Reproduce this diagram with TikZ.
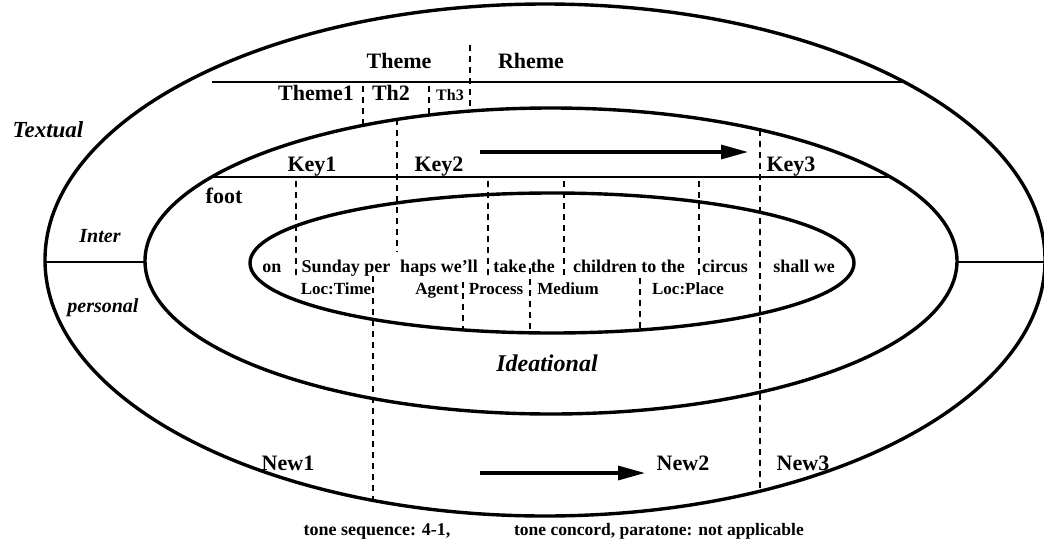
\documentclass[tikz,border=0pt]{standalone}
\usepackage{fontspec}
\setmainfont{Liberation Serif}
\usetikzlibrary{arrows.meta}
\begin{document}
\begin{tikzpicture}[x=1pt,y=-1pt,
  ring/.style={line width=3.4pt},
  rule/.style={line width=2.8pt},
  divider/.style={line width=2.3pt, dash pattern=on 6pt off 5pt},
  flow/.style={line width=3.2pt,-{Triangle[length=27pt,width=14pt]}},
  lab/.style={font=\fontsize{22}{24}\selectfont\bfseries, inner sep=0pt, anchor=base},
  small/.style={font=\fontsize{16}{18}\selectfont\bfseries, inner sep=0pt, anchor=base},
  word/.style={font=\fontsize{18}{20}\selectfont\bfseries, inner sep=0pt, anchor=base},
  role/.style={font=\fontsize{17}{19}\selectfont\bfseries, inner sep=0pt, anchor=base},
  meta/.style={font=\fontsize{20}{22}\selectfont\bfseries\itshape, inner sep=0pt},
  foot/.style={font=\fontsize{18}{20}\selectfont\bfseries, inner sep=0pt, anchor=base},
]
\useasboundingbox (0,0) rectangle (1044,544);

% the three metafunction rings
\draw[ring] (545,260) ellipse [x radius=500pt, y radius=256pt];
\draw[ring] (551,261) ellipse [x radius=406pt, y radius=153pt];
\draw[ring] (552,263) ellipse [x radius=302pt, y radius=70pt];

% horizontal rules
\coordinate (ol) at (45,262);   \coordinate (ml) at (145,262);
\coordinate (mr) at (957,262);  \coordinate (or) at (1044,262);
\draw[rule] (ol) -- (ml);
\draw[rule] (mr) -- (or);
\coordinate (th-a) at (212,82);  \coordinate (th-b) at (904,82);
\draw[rule] (th-a) -- (th-b);
\coordinate (ky-a) at (211,177); \coordinate (ky-b) at (891,177);
\draw[rule] (ky-a) -- (ky-b);

% dashed boundaries
\foreach \n/\x/\ya/\yb in {a/470/45/111, b/363/86/125, c/429/86/115, d/397/119/252,
    e/760/130/491, f/296/181/276, g/488/181/276, h/564/181/276, i/699/181/276,
    j/373/276/500, k/463/282/330, l/530/268/333, m/640/278/330}{
  \coordinate (d\n1) at (\x,\ya);
  \coordinate (d\n2) at (\x,\yb);
  \draw[divider] (d\n1) -- (d\n2);
}

% textual layer
\node[lab] (theme) at (399,68) {Theme};
\node[lab] (rheme) at (531,68) {Rheme};
\node[lab] (theme1) at (316,100) {Theme1};
\node[lab] (th2) at (391,100) {Th2};
\node[small] (th3) at (450,100) {Th3};

% key
\node[lab] (key1) at (312,171) {Key1};
\node[lab] (key2) at (439,171) {Key2};
\node[lab] (key3) at (791,171) {Key3};
\coordinate (ka) at (480,152); \coordinate (kb) at (748,152);
\draw[flow] (ka) -- (kb);
\node[lab] (footlab) at (224,203) {foot};

% clause and its participants
\node[word] (w1) at (272,272) {on};
\node[word] (w2) at (346,272) {Sunday per};
\node[word] (w3) at (439,272) {haps we'll};
\node[word] (w4) at (524,272) {take the};
\node[word] (w5) at (629,272) {children to the};
\node[word] (w6) at (725,272) {circus};
\node[word] (w7) at (804,272) {shall we};
\node[role] (p1) at (336,294) {Loc:Time};
\node[role] (p2) at (437,294) {Agent};
\node[role] (p3) at (496,294) {Process};
\node[role] (p4) at (568,294) {Medium};
\node[role] (p5) at (688,294) {Loc:Place};

% metafunction names
\node[meta, font=\fontsize{23}{25}\selectfont\bfseries\itshape] (textual) at (48,130) {Textual};
\node[meta] (inter) at (100,236) {Inter};
\node[meta] (personal) at (103,308) {personal};
\node[meta, font=\fontsize{24}{26}\selectfont\bfseries\itshape] (ideational) at (547,363) {Ideational};

% new information
\node[lab] (new1) at (288,470) {New1};
\node[lab] (new2) at (683,470) {New2};
\node[lab] (new3) at (803,470) {New3};
\coordinate (na) at (480,473); \coordinate (nb) at (645,473);
\draw[flow] (na) -- (nb);

% tone notes
\node[foot] (tone1) at (377,535) {tone sequence: 4-1,};
\node[foot, font=\fontsize{17.5}{19}\selectfont\bfseries] (tone2) at (659,535) {tone concord, paratone: not applicable};
\end{tikzpicture}
\end{document}
